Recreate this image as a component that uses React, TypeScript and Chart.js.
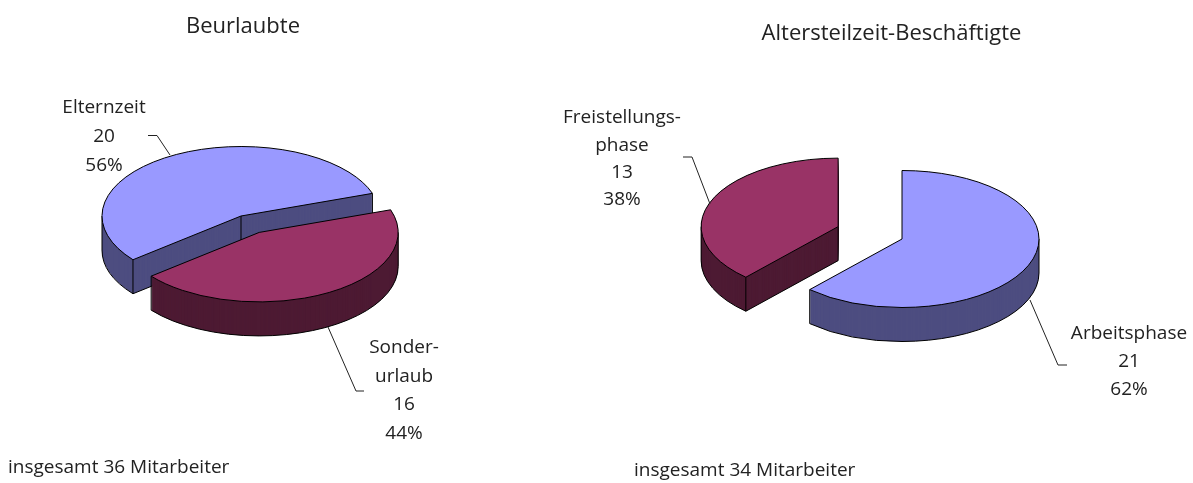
import React, { useEffect, useRef } from "react";
import { Chart, registerables } from "chart.js";

Chart.register(...registerables);

const FONT = '"Open Sans", sans-serif';
const TEXT = "#222222";

const leftTitle = "Beurlaubte";
const leftCategories = ["Elternzeit", "Sonderurlaub"];
const leftValues = [20, 16];
const leftPercents = ["56%", "44%"];
const leftExplode = [0, 0.27];
const leftTotal = "insgesamt 36 Mitarbeiter";

const rightTitle = "Altersteilzeit-Beschäftigte";
const rightCategories = ["Arbeitsphase", "Freistellungsphase"];
const rightValues = [21, 13];
const rightPercents = ["62%", "38%"];
const rightExplode = [0, 0.5];
const rightTotal = "insgesamt 34 Mitarbeiter";

const topColors = ["#9999FF", "#993366"];
const sideColors = ["#4D4D80", "#4D1A33"];

const fixedOpts = {
  borderWidth: 0,
  borderColor: "#000",
  borderAlign: "center",
  borderJoinStyle: "round",
  borderDash: [],
  borderDashOffset: 0,
  offset: 0,
  spacing: 0,
  borderRadius: 0,
  circular: true,
  selfJoin: false,
};

type Label = { lines: string[]; x: number; y: number; step: number; leader: number[][] };

type Cfg = {
  left: number;
  width: number;
  title: string;
  titleTop: number;
  categories: string[];
  values: number[];
  explode: number[];
  rotation: number;
  radius: number;
  ratio: number;
  depth: number;
  cx: number;
  cy: number;
  labels: Label[];
  total: string;
  totalX: number;
  totalY: number;
};

const leftCfg: Cfg = {
  left: 0,
  width: 486,
  title: leftTitle,
  titleTop: 14,
  categories: leftCategories,
  values: leftValues,
  explode: leftExplode,
  rotation: 231,
  radius: 139,
  ratio: 0.5,
  depth: 34,
  cx: 241,
  cy: 216,
  labels: [
    { lines: [leftCategories[0], String(leftValues[0]), leftPercents[0]], x: 104, y: 108, step: 29, leader: [[148, 135.5], [157, 135.5], [170, 155]] },
    { lines: ["Sonder-", "urlaub", String(leftValues[1]), leftPercents[1]], x: 404, y: 348, step: 28.4, leader: [[328, 327], [356, 391], [364, 391]] },
  ],
  total: leftTotal,
  totalX: 8,
  totalY: 468,
};

const rightCfg: Cfg = {
  left: 540,
  width: 703,
  title: rightTitle,
  titleTop: 21,
  categories: rightCategories,
  values: rightValues,
  explode: rightExplode,
  rotation: 0,
  radius: 137,
  ratio: 0.5,
  depth: 34,
  cx: 902,
  cy: 239,
  labels: [
    { lines: ["Arbeitsphase", String(rightValues[0]), rightPercents[0]], x: 1129, y: 334, step: 28, leader: [[1030, 300], [1058, 365], [1067, 365]] },
    { lines: ["Freistellungs-", "phase", String(rightValues[1]), rightPercents[1]], x: 622, y: 118, step: 27.3, leader: [[683, 157], [692, 157], [710, 204]] },
  ],
  total: rightTotal,
  totalX: 634,
  totalY: 471,
};

function pie3d(cfg: Cfg) {
  return {
    id: "pie3d",
    beforeDatasetsDraw(chart: any) {
      const ctx: CanvasRenderingContext2D = chart.ctx;
      const arcs: any[] = chart.getDatasetMeta(0).data;
      const cx = cfg.cx - cfg.left;
      const cy = cfg.cy;
      const { ratio, depth } = cfg;

      arcs.forEach((arc, i) => {
        const R = arc.outerRadius;
        const mid = (arc.startAngle + arc.endAngle) / 2;
        const ox = cx + Math.cos(mid) * cfg.explode[i] * R;
        const oy = cy + Math.sin(mid) * cfg.explode[i] * R * ratio;
        const px = (t: number) => ox + Math.cos(t) * R;
        const py = (t: number) => oy + Math.sin(t) * R * ratio;
        const saved = arc.options;
        const paint = (dy: number, color: string) => {
          ctx.save();
          ctx.translate(ox, oy + dy);
          ctx.scale(1, ratio);
          ctx.translate(-arc.x, -arc.y);
          arc.options = { ...fixedOpts, backgroundColor: color };
          arc.draw(ctx);
          arc.options = saved;
          ctx.restore();
        };

        for (let dy = depth; dy >= 1; dy -= 1) paint(dy, sideColors[i]);

        ctx.save();
        ctx.strokeStyle = "#000";
        ctx.lineWidth = 1;
        ctx.lineJoin = "round";
        const s = arc.startAngle;
        const e = arc.endAngle;
        const TAU = Math.PI * 2;
        const eps = 1e-6;
        // visible rim: the near (lower) half of the bottom ellipse
        for (const k of [-1, 0, 1]) {
          const a = Math.max(s, k * TAU);
          const b = Math.min(e, k * TAU + Math.PI);
          if (b > a) {
            ctx.beginPath();
            ctx.ellipse(ox, oy + depth, R, R * ratio, 0, a, b);
            ctx.stroke();
          }
        }
        // only the cut faces that turn towards the viewer get their edges
        const startWall = Math.cos(s) < -eps;
        const endWall = Math.cos(e) > eps;
        const vertical = (x: number, y: number) => {
          ctx.moveTo(x, y);
          ctx.lineTo(x, y + depth);
        };
        ctx.beginPath();
        if (startWall) {
          ctx.moveTo(px(s), py(s) + depth);
          ctx.lineTo(ox, oy + depth);
        }
        if (endWall) {
          ctx.moveTo(px(e), py(e) + depth);
          ctx.lineTo(ox, oy + depth);
        }
        if (startWall || endWall) vertical(ox, oy);
        if (startWall || Math.sin(s) > eps) vertical(px(s), py(s));
        if (endWall || Math.sin(e) > eps) vertical(px(e), py(e));
        for (const t of [0, Math.PI, TAU, TAU + Math.PI]) {
          if (t > s && t < e) vertical(px(t), py(t));
        }
        ctx.stroke();
        ctx.restore();

        paint(0, topColors[i]);

        ctx.save();
        ctx.strokeStyle = "#000";
        ctx.lineWidth = 1;
        ctx.lineJoin = "round";
        ctx.beginPath();
        ctx.moveTo(ox, oy);
        ctx.ellipse(ox, oy, R, R * ratio, 0, s, e);
        ctx.closePath();
        ctx.stroke();
        ctx.restore();
      });
      return false;
    },
    afterDraw(chart: any) {
      const ctx: CanvasRenderingContext2D = chart.ctx;
      ctx.save();
      ctx.font = `19px ${FONT}`;
      ctx.fillStyle = TEXT;
      ctx.textBaseline = "middle";
      ctx.textAlign = "center";
      cfg.labels.forEach((l) => {
        l.lines.forEach((line, j) => ctx.fillText(line, l.x - cfg.left, l.y + j * l.step));
        ctx.strokeStyle = "#222";
        ctx.lineWidth = 1;
        ctx.beginPath();
        l.leader.forEach(([x, y], j) => {
          if (j === 0) ctx.moveTo(x - cfg.left, y);
          else ctx.lineTo(x - cfg.left, y);
        });
        ctx.stroke();
      });
      ctx.textAlign = "left";
      ctx.fillText(cfg.total, cfg.totalX - cfg.left, cfg.totalY);
      ctx.restore();
    },
  };
}

function Pie({ cfg }: { cfg: Cfg }) {
  const ref = useRef<HTMLCanvasElement | null>(null);
  useEffect(() => {
    const chart = new Chart(ref.current as HTMLCanvasElement, {
      type: "pie",
      data: {
        labels: cfg.categories,
        datasets: [{ data: cfg.values, backgroundColor: topColors, borderWidth: 0 }],
      },
      options: {
        responsive: false,
        animation: false,
        rotation: cfg.rotation,
        radius: cfg.radius,
        plugins: {
          legend: { display: false },
          tooltip: { enabled: false },
          title: {
            display: true,
            text: cfg.title,
            color: TEXT,
            font: { family: FONT, size: 22, weight: "normal" },
            padding: { top: cfg.titleTop, bottom: 0 },
          },
        },
      },
      plugins: [pie3d(cfg)],
    } as any);
    return () => chart.destroy();
  }, [cfg]);
  return (
    <canvas
      ref={ref}
      width={cfg.width}
      height={483}
      style={{ position: "absolute", left: cfg.left, top: 0, width: cfg.width, height: 483 }}
    />
  );
}

export default function App() {
  return (
    <div style={{ position: "absolute", left: 0, top: 0, width: 1193, height: 483, background: "#fff", overflow: "hidden" }}>
      <Pie cfg={leftCfg} />
      <Pie cfg={rightCfg} />
    </div>
  );
}
